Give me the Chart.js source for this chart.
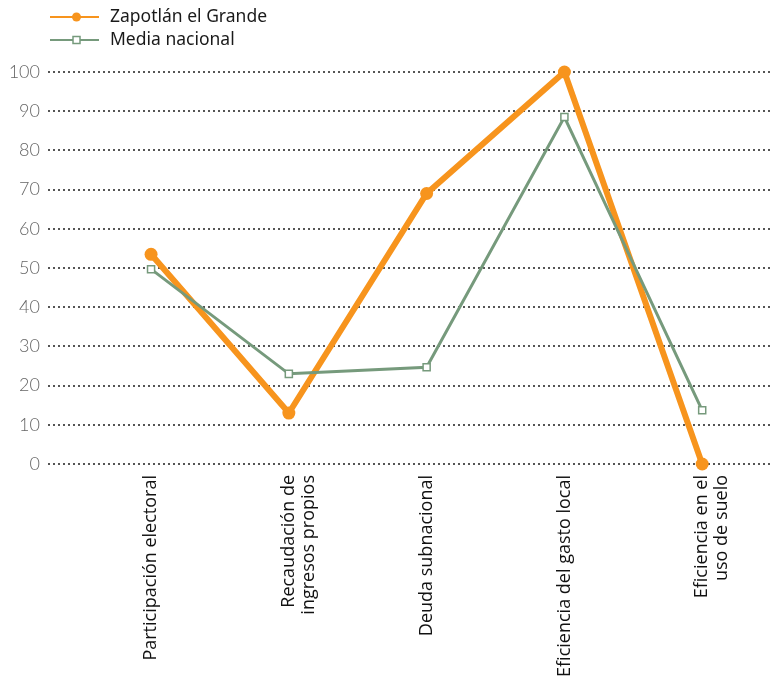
<!DOCTYPE html>
<html>
<head>
<meta charset="utf-8">
<script src="https://cdn.jsdelivr.net/npm/chart.js@4/dist/chart.umd.min.js"></script>
<style>
  html, body { margin: 0; padding: 0; background: #fff; }
  #wrap { width: 778px; height: 681px; position: relative; }
</style>
</head>
<body>
<div id="wrap"><canvas id="chart"></canvas></div>
<script>
// categories (multi-line labels)
var categories = [
  ['Participación electoral'],
  ['Recaudación de', 'ingresos propios'],
  ['Deuda subnacional'],
  ['Eficiencia del gasto local'],
  ['Eficiencia en el', 'uso de suelo']
];
var seriesNames = ['Zapotlán el Grande', 'Media nacional'];
var zapotlan = [53.5, 13, 69, 100, 0];
var mediaNacional = [49.7, 23, 24.7, 88.5, 13.7];
var yTicks = [0, 10, 20, 30, 40, 50, 60, 70, 80, 90, 100];

var orange = '#f7941d';
var green = '#769a7c';

var toPoints = (vals) => vals.map((v, i) => ({ x: i, y: v }));

// draws the stacked legend in the top-left corner
var stackedLegend = {
  id: 'stackedLegend',
  afterDraw: (chart) => {
    var ctx = chart.ctx;
    var rows = [17, 40];
    ctx.save();
    chart.data.datasets.forEach((ds, i) => {
      var y = rows[i];
      ctx.strokeStyle = ds.borderColor;
      ctx.lineWidth = 2;
      ctx.beginPath();
      ctx.moveTo(50, y);
      ctx.lineTo(99, y);
      ctx.stroke();
      if (ds.pointStyle === 'rect') {
        ctx.fillStyle = '#fff';
        ctx.lineWidth = 1.5;
        ctx.fillRect(73, y - 3.5, 7, 7);
        ctx.strokeRect(73, y - 3.5, 7, 7);
      } else {
        ctx.fillStyle = ds.borderColor;
        ctx.beginPath();
        ctx.arc(76.5, y, 4.5, 0, Math.PI * 2);
        ctx.fill();
      }
      ctx.fillStyle = '#1a1a1a';
      ctx.font = '17.5px "Noto Sans"';
      ctx.textBaseline = 'middle';
      ctx.fillText(ds.label, 110, y);
    });
    ctx.restore();
  }
};

new Chart(document.getElementById('chart'), {
  type: 'line',
  data: {
    datasets: [
      {
        label: seriesNames[0],
        data: toPoints(zapotlan),
        borderColor: orange,
        backgroundColor: orange,
        borderWidth: 6,
        pointRadius: 6.5,
        pointBackgroundColor: orange,
        pointBorderWidth: 0,
        clip: false,
        order: 1
      },
      {
        label: seriesNames[1],
        data: toPoints(mediaNacional),
        borderColor: green,
        backgroundColor: '#fff',
        borderWidth: 3,
        pointStyle: 'rect',
        pointRadius: 5,
        pointBackgroundColor: '#fff',
        pointBorderColor: green,
        pointBorderWidth: 1.5,
        clip: false,
        order: 0
      }
    ]
  },
  options: {
    responsive: true,
    maintainAspectRatio: false,
    animation: false,
    layout: {
      padding: { top: 72, left: 8, right: 0, bottom: 0 }
    },
    plugins: {
      legend: { display: false },
      tooltip: { enabled: false }
    },
    scales: {
      x: {
        type: 'linear',
        min: -0.748,
        max: 4.503,
        grid: { display: false },
        border: { display: false },
        afterBuildTicks: (scale) => {
          scale.ticks = categories.map((c, i) => ({ value: i }));
        },
        afterFit: (scale) => {
          scale.height = 217;
        },
        ticks: {
          autoSkip: false,
          minRotation: 90,
          maxRotation: 90,
          padding: 3,
          color: '#111',
          font: { family: '"Open Sans"', size: 18, lineHeight: 1.1 },
          callback: (value) => categories[value]
        }
      },
      y: {
        min: 0,
        max: 100,
        afterBuildTicks: (scale) => {
          scale.ticks = yTicks.map((v) => ({ value: v }));
        },
        afterFit: (scale) => {
          scale.width = 40;
        },
        grid: {
          color: '#555',
          lineWidth: 2,
          drawTicks: false
        },
        border: { display: false, dash: [2, 3] },
        ticks: {
          padding: 8,
          color: '#666',
          font: { family: 'Lato', size: 18, weight: 300 }
        }
      }
    }
  },
  plugins: [stackedLegend]
});
</script>
</body>
</html>
